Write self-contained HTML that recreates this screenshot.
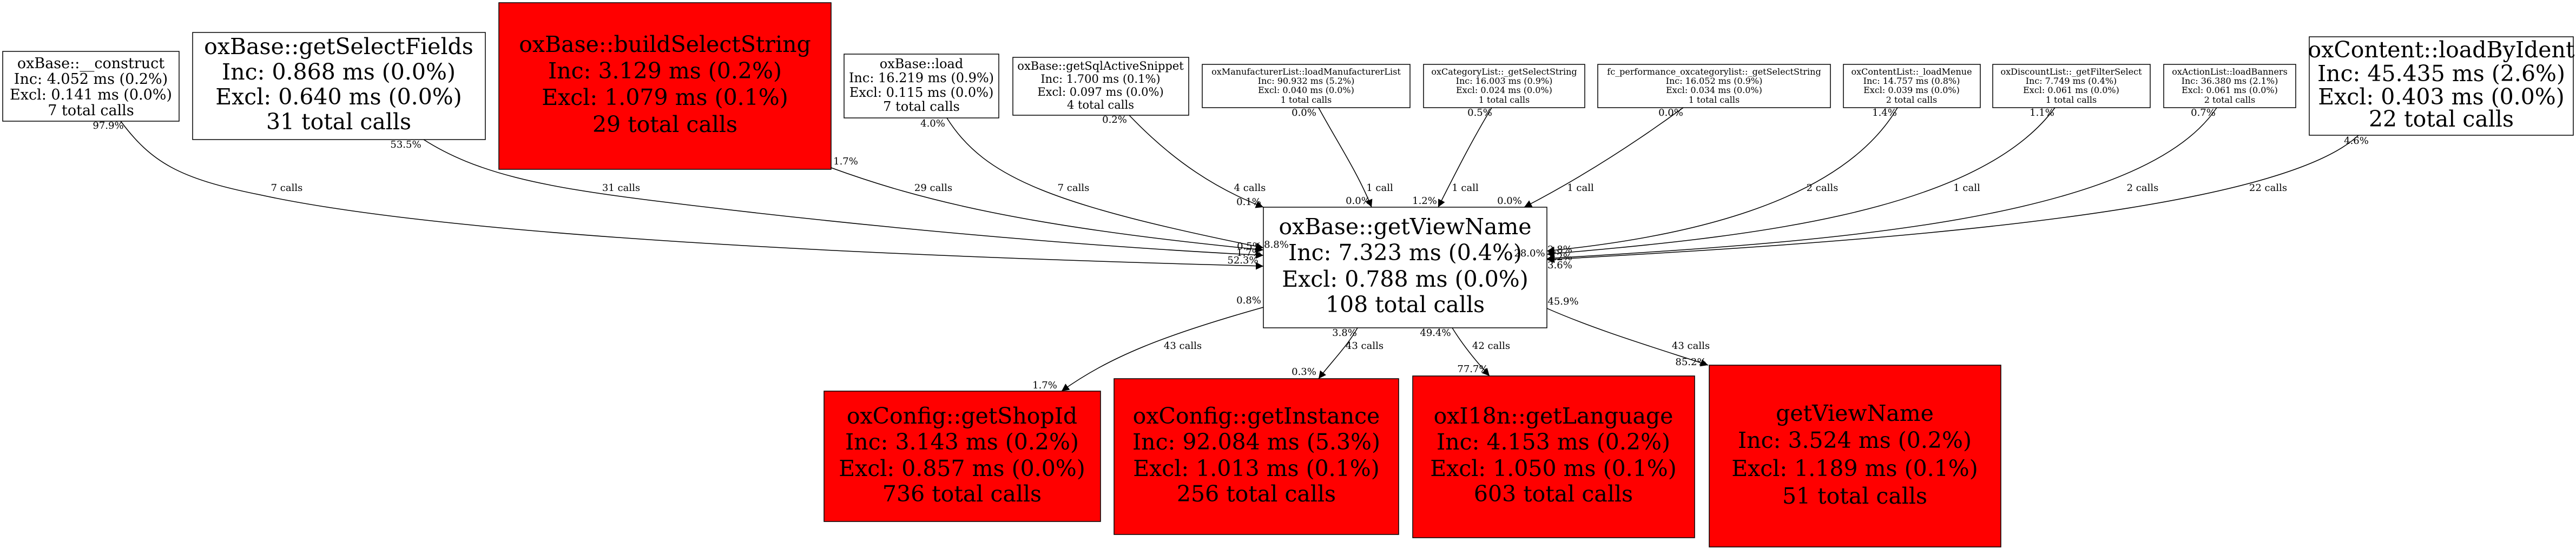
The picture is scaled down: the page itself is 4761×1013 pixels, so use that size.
<!DOCTYPE html>
<html><head><meta charset="utf-8"><style>
html,body{margin:0;padding:0;background:#fff;}
svg{display:block;}
text{font-family:"DejaVu Serif","Liberation Serif",serif;fill:#000;}
.b{font-size:41px;text-anchor:middle;}
.m{font-size:27px;text-anchor:middle;}
.s{font-size:16px;text-anchor:middle;}
.l{font-size:18px;text-anchor:middle;}
rect{stroke:#000;stroke-width:1.5;}
path{fill:none;stroke:#000;stroke-width:1.5;}
</style></head><body>
<svg width="4761" height="1013" viewBox="0 0 4761 1013" xmlns="http://www.w3.org/2000/svg">
<defs><marker id="a" viewBox="0 0 10 10" refX="10" refY="5" markerWidth="14" markerHeight="14" markerUnits="userSpaceOnUse" orient="auto"><path d="M0,0 L10,5 L0,10 z" style="fill:#000;stroke:none"/></marker></defs>

<path marker-end="url(#a)" d="M223,224 C280,300 330,330 480,360 C800,430 1500,470 2335,492"/>
<path marker-end="url(#a)" d="M783,258 C880,320 1000,345 1200,370 C1600,420 2000,455 2335,472"/>
<path marker-end="url(#a)" d="M1536,310 C1700,370 1900,420 2335,462"/>
<path marker-end="url(#a)" d="M1750,218 C1820,330 1950,380 2335,458"/>
<path marker-end="url(#a)" d="M2087,213 C2170,300 2250,350 2335,383"/>
<path marker-end="url(#a)" d="M2437,199 C2470,260 2510,320 2535,383"/>
<path marker-end="url(#a)" d="M2757,199 C2720,260 2690,320 2658,383"/>
<path marker-end="url(#a)" d="M3111,199 C3000,280 2900,340 2817,383"/>
<path marker-end="url(#a)" d="M3507,199 C3400,380 3100,440 2859,464"/>
<path marker-end="url(#a)" d="M3798,199 C3650,400 3200,440 2859,470"/>
<path marker-end="url(#a)" d="M4097,199 C3950,420 3300,450 2859,478"/>
<path marker-end="url(#a)" d="M4359,250 C4200,400 3400,450 2859,480"/>
<path marker-end="url(#a)" d="M2335,568 C2150,620 2050,660 1962,723"/>
<path marker-end="url(#a)" d="M2509,606 C2490,640 2460,670 2437,700"/>
<path marker-end="url(#a)" d="M2684,606 C2705,640 2730,670 2753,695"/>
<path marker-end="url(#a)" d="M2859,570 C2950,610 3050,640 3157,675"/>

<rect x="5" y="95" width="326" height="129" fill="#fff"/>
<text class="m" x="168" y="126">oxBase::__construct</text>
<text class="m" x="168" y="155">Inc: 4.052 ms (0.2%)</text>
<text class="m" x="168" y="184">Excl: 0.141 ms (0.0%)</text>
<text class="m" x="168" y="213">7 total calls</text>

<rect x="356" y="60" width="541" height="198" fill="#fff"/>
<text class="b" x="626" y="100">oxBase::getSelectFields</text>
<text class="b" x="626" y="147">Inc: 0.868 ms (0.0%)</text>
<text class="b" x="626" y="193">Excl: 0.640 ms (0.0%)</text>
<text class="b" x="626" y="239">31 total calls</text>

<rect x="922" y="5" width="614" height="308" fill="#f00"/>
<text class="b" x="1229" y="96">oxBase::buildSelectString</text>
<text class="b" x="1229" y="145">Inc: 3.129 ms (0.2%)</text>
<text class="b" x="1229" y="194">Excl: 1.079 ms (0.1%)</text>
<text class="b" x="1229" y="244">29 total calls</text>

<rect x="1560" y="100" width="286" height="118" fill="#fff"/>
<text class="m" x="1703" y="126" style="font-size:24px">oxBase::load</text>
<text class="m" x="1703" y="152" style="font-size:24px">Inc: 16.219 ms (0.9%)</text>
<text class="m" x="1703" y="179" style="font-size:24px">Excl: 0.115 ms (0.0%)</text>
<text class="m" x="1703" y="205" style="font-size:24px">7 total calls</text>

<rect x="1872" y="106" width="325" height="107" fill="#fff"/>
<text class="m" x="2034" y="129" style="font-size:21px">oxBase::getSqlActiveSnippet</text>
<text class="m" x="2034" y="153" style="font-size:21px">Inc: 1.700 ms (0.1%)</text>
<text class="m" x="2034" y="177" style="font-size:21px">Excl: 0.097 ms (0.0%)</text>
<text class="m" x="2034" y="201" style="font-size:21px">4 total calls</text>

<rect x="2222" y="119" width="384" height="80" fill="#fff"/>
<text class="s" x="2414" y="138">oxManufacturerList::loadManufacturerList</text>
<text class="s" x="2414" y="155">Inc: 90.932 ms (5.2%)</text>
<text class="s" x="2414" y="172">Excl: 0.040 ms (0.0%)</text>
<text class="s" x="2414" y="190">1 total calls</text>

<rect x="2631" y="119" width="298" height="80" fill="#fff"/>
<text class="s" x="2780" y="138">oxCategoryList::_getSelectString</text>
<text class="s" x="2780" y="155">Inc: 16.003 ms (0.9%)</text>
<text class="s" x="2780" y="172">Excl: 0.024 ms (0.0%)</text>
<text class="s" x="2780" y="190">1 total calls</text>

<rect x="2953" y="119" width="430" height="80" fill="#fff"/>
<text class="s" x="3168" y="138">fc_performance_oxcategorylist::_getSelectString</text>
<text class="s" x="3168" y="155">Inc: 16.052 ms (0.9%)</text>
<text class="s" x="3168" y="172">Excl: 0.034 ms (0.0%)</text>
<text class="s" x="3168" y="190">1 total calls</text>

<rect x="3407" y="119" width="253" height="80" fill="#fff"/>
<text class="s" x="3533" y="138">oxContentList::_loadMenue</text>
<text class="s" x="3533" y="155">Inc: 14.757 ms (0.8%)</text>
<text class="s" x="3533" y="172">Excl: 0.039 ms (0.0%)</text>
<text class="s" x="3533" y="190">2 total calls</text>

<rect x="3683" y="119" width="291" height="80" fill="#fff"/>
<text class="s" x="3828" y="138">oxDiscountList::_getFilterSelect</text>
<text class="s" x="3828" y="155">Inc: 7.749 ms (0.4%)</text>
<text class="s" x="3828" y="172">Excl: 0.061 ms (0.0%)</text>
<text class="s" x="3828" y="190">1 total calls</text>

<rect x="3999" y="119" width="244" height="80" fill="#fff"/>
<text class="s" x="4121" y="138">oxActionList::loadBanners</text>
<text class="s" x="4121" y="155">Inc: 36.380 ms (2.1%)</text>
<text class="s" x="4121" y="172">Excl: 0.061 ms (0.0%)</text>
<text class="s" x="4121" y="190">2 total calls</text>

<rect x="4268" y="68" width="488" height="182" fill="#fff"/>
<text class="b" x="4512" y="106">oxContent::loadByIdent</text>
<text class="b" x="4512" y="150">Inc: 45.435 ms (2.6%)</text>
<text class="b" x="4512" y="193">Excl: 0.403 ms (0.0%)</text>
<text class="b" x="4512" y="234">22 total calls</text>

<rect x="2335" y="383" width="524" height="223" fill="#fff"/>
<text class="b" x="2597" y="433">oxBase::getViewName</text>
<text class="b" x="2597" y="481">Inc: 7.323 ms (0.4%)</text>
<text class="b" x="2597" y="530">Excl: 0.788 ms (0.0%)</text>
<text class="b" x="2597" y="577">108 total calls</text>

<rect x="1523" y="723" width="511" height="241" fill="#f00"/>
<text class="b" x="1778" y="783">oxConfig::getShopId</text>
<text class="b" x="1778" y="831">Inc: 3.143 ms (0.2%)</text>
<text class="b" x="1778" y="880">Excl: 0.857 ms (0.0%)</text>
<text class="b" x="1778" y="927">736 total calls</text>

<rect x="2059" y="700" width="526" height="288" fill="#f00"/>
<text class="b" x="2322" y="783">oxConfig::getInstance</text>
<text class="b" x="2322" y="831">Inc: 92.084 ms (5.3%)</text>
<text class="b" x="2322" y="880">Excl: 1.013 ms (0.1%)</text>
<text class="b" x="2322" y="927">256 total calls</text>

<rect x="2611" y="695" width="521" height="299" fill="#f00"/>
<text class="b" x="2871" y="783">oxI18n::getLanguage</text>
<text class="b" x="2871" y="831">Inc: 4.153 ms (0.2%)</text>
<text class="b" x="2871" y="880">Excl: 1.050 ms (0.1%)</text>
<text class="b" x="2871" y="927">603 total calls</text>

<rect x="3159" y="675" width="539" height="336" fill="#f00"/>
<text class="b" x="3428" y="778">getViewName</text>
<text class="b" x="3428" y="828">Inc: 3.524 ms (0.2%)</text>
<text class="b" x="3428" y="880">Excl: 1.189 ms (0.1%)</text>
<text class="b" x="3428" y="931">51 total calls</text>

<g>
<text class="l" x="200" y="238">97.9%</text>
<text class="l" x="530" y="353">7 calls</text>
<text class="l" x="750" y="273">53.5%</text>
<text class="l" x="1148" y="353">31 calls</text>
<text class="l" x="1563" y="304">1.7%</text>
<text class="l" x="1725" y="353">29 calls</text>
<text class="l" x="1724" y="234">4.0%</text>
<text class="l" x="1984" y="353">7 calls</text>
<text class="l" x="2060" y="227">0.2%</text>
<text class="l" x="2310" y="353">4 calls</text>
<text class="l" x="2308" y="379">0.1%</text>
<text class="l" x="2410" y="214">0.0%</text>
<text class="l" x="2550" y="353">1 call</text>
<text class="l" x="2510" y="377">0.0%</text>
<text class="l" x="2735" y="214">0.5%</text>
<text class="l" x="2708" y="353">1 call</text>
<text class="l" x="2633" y="377">1.2%</text>
<text class="l" x="3088" y="214">0.0%</text>
<text class="l" x="2921" y="353">1 call</text>
<text class="l" x="2790" y="377">0.0%</text>
<text class="l" x="3483" y="214">1.4%</text>
<text class="l" x="3368" y="353">2 calls</text>
<text class="l" x="3774" y="214">1.1%</text>
<text class="l" x="3635" y="353">1 call</text>
<text class="l" x="4072" y="214">0.7%</text>
<text class="l" x="3960" y="353">2 calls</text>
<text class="l" x="4355" y="266">4.6%</text>
<text class="l" x="4192" y="353">22 calls</text>
<text class="l" x="2309" y="461">0.5%</text>
<text class="l" x="2359" y="458">8.8%</text>
<text class="l" x="2308" y="473">1.7%</text>
<text class="l" x="2297" y="487">52.3%</text>
<text class="l" x="2883" y="467">2.8%</text>
<text class="l" x="2827" y="474">28.0%</text>
<text class="l" x="2883" y="481">1.2%</text>
<text class="l" x="2883" y="496">3.6%</text>
<text class="l" x="2308" y="561">0.8%</text>
<text class="l" x="2186" y="645">43 calls</text>
<text class="l" x="1931" y="718">1.7%</text>
<text class="l" x="2485" y="621">3.8%</text>
<text class="l" x="2522" y="645">43 calls</text>
<text class="l" x="2410" y="693">0.3%</text>
<text class="l" x="2653" y="621">49.4%</text>
<text class="l" x="2756" y="645">42 calls</text>
<text class="l" x="2722" y="688">77.7%</text>
<text class="l" x="2889" y="563">45.9%</text>
<text class="l" x="3125" y="645">43 calls</text>
<text class="l" x="3125" y="675">85.2%</text>
</g>
</svg>
</body></html>
